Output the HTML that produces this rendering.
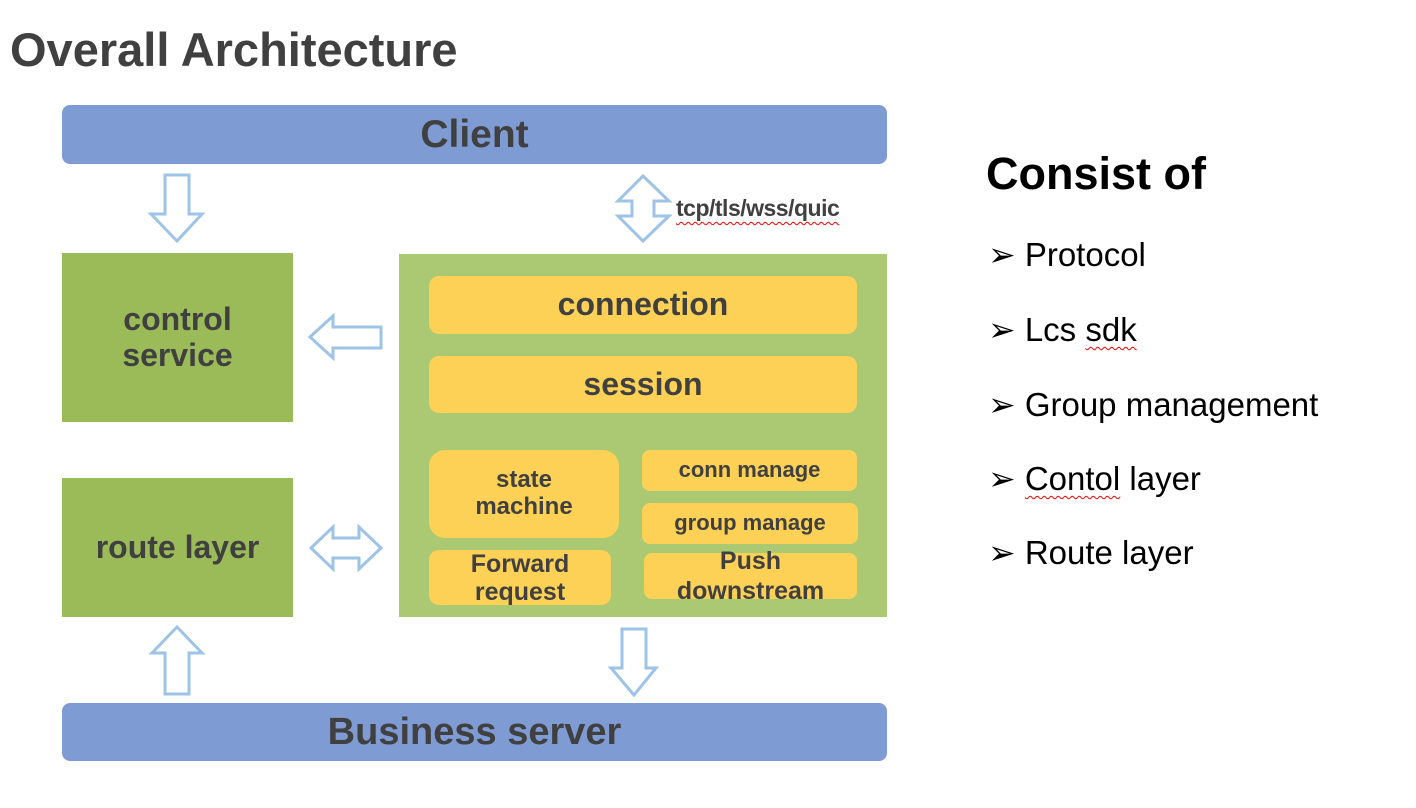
<!DOCTYPE html>
<html><head><meta charset="utf-8"><style>
body{margin:0;width:1416px;height:808px;background:#fff;position:relative;overflow:hidden;font-family:"Liberation Sans",sans-serif;}
.b{position:absolute;display:flex;align-items:center;justify-content:center;text-align:center;font-weight:bold;color:#404040;line-height:1.12;}
.y{background:#fdd155;border-radius:10px;}
.t{position:absolute;white-space:nowrap;}
.li{position:absolute;left:988px;font-size:33px;color:#000;white-space:nowrap;}
.sq{text-decoration:underline wavy #e00;text-decoration-thickness:1px;text-underline-offset:5px;}
</style></head><body>
<div class="t" style="left:10px;top:22px;font-size:47px;font-weight:bold;color:#404040;">Overall Architecture</div>

<div class="b" style="left:62px;top:105px;width:825px;height:59px;background:#7f9bd4;border-radius:8px;font-size:39px;">Client</div>
<div class="b" style="left:62px;top:703px;width:825px;height:58px;background:#7f9bd4;border-radius:8px;font-size:38px;">Business server</div>
<div class="b" style="left:62px;top:253px;width:231px;height:169px;background:#9bbb59;font-size:32px;">control<br>service</div>
<div class="b" style="left:62px;top:478px;width:231px;height:139px;background:#9bbb59;font-size:32px;">route layer</div>
<div style="position:absolute;left:399px;top:254px;width:488px;height:363px;background:#abc873;"></div>
<div class="b y" style="left:429px;top:276px;width:428px;height:58px;font-size:32px;">connection</div>
<div class="b y" style="left:429px;top:356px;width:428px;height:57px;font-size:32px;">session</div>
<div class="b y" style="left:429px;top:450px;width:190px;height:88px;font-size:24px;border-radius:16px;">state<br>machine</div>
<div class="b y" style="left:642px;top:450px;width:215px;height:41px;font-size:22px;border-radius:8px;">conn manage</div>
<div class="b y" style="left:642px;top:503px;width:216px;height:41px;font-size:22px;border-radius:8px;">group manage</div>
<div class="b y" style="left:429px;top:550px;width:182px;height:55px;font-size:25px;border-radius:10px;">Forward<br>request</div>
<div class="b y" style="left:644px;top:553px;width:213px;height:46px;font-size:25px;border-radius:8px;line-height:1.2;">Push<br>downstream</div>

<div class="t sq" style="left:676px;top:195px;font-size:23px;font-weight:bold;color:#404040;letter-spacing:-0.5px;">tcp/tls/wss/quic</div>

<svg width="1416" height="808" style="position:absolute;left:0;top:0" fill="#fff" stroke="#9dc3e6" stroke-width="3" stroke-linejoin="miter">
<polygon points="165,175 189,175 189,214 202,214 177,241 151,214 165,214"/>
<polygon points="165,694 189,694 189,653 202,653 177,627 152,653 165,653"/>
<polygon points="622,629 646,629 646,668 656,668 634,695 611,668 622,668"/>
<polygon points="643,176 669,201 654,201 654,216 669,216 643,241 618,216 632,216 632,201 618,201"/>
<polygon points="381,327 381,348 333,348 333,358 310,337 333,316 333,327"/>
<polygon points="311,548 333,527 333,538 359,538 359,527 381,548 359,569 359,558 333,558 333,569"/>
</svg>

<div class="t" style="left:986px;top:148px;font-size:45px;font-weight:bold;color:#000;">Consist of</div>
<div class="li" style="top:235px;">➢ Protocol</div>
<div class="li" style="top:310px;">➢ Lcs <span class="sq">sdk</span></div>
<div class="li" style="top:385px;">➢ Group management</div>
<div class="li" style="top:459px;">➢ <span class="sq">Contol</span> layer</div>
<div class="li" style="top:533px;">➢ Route layer</div>
</body></html>
